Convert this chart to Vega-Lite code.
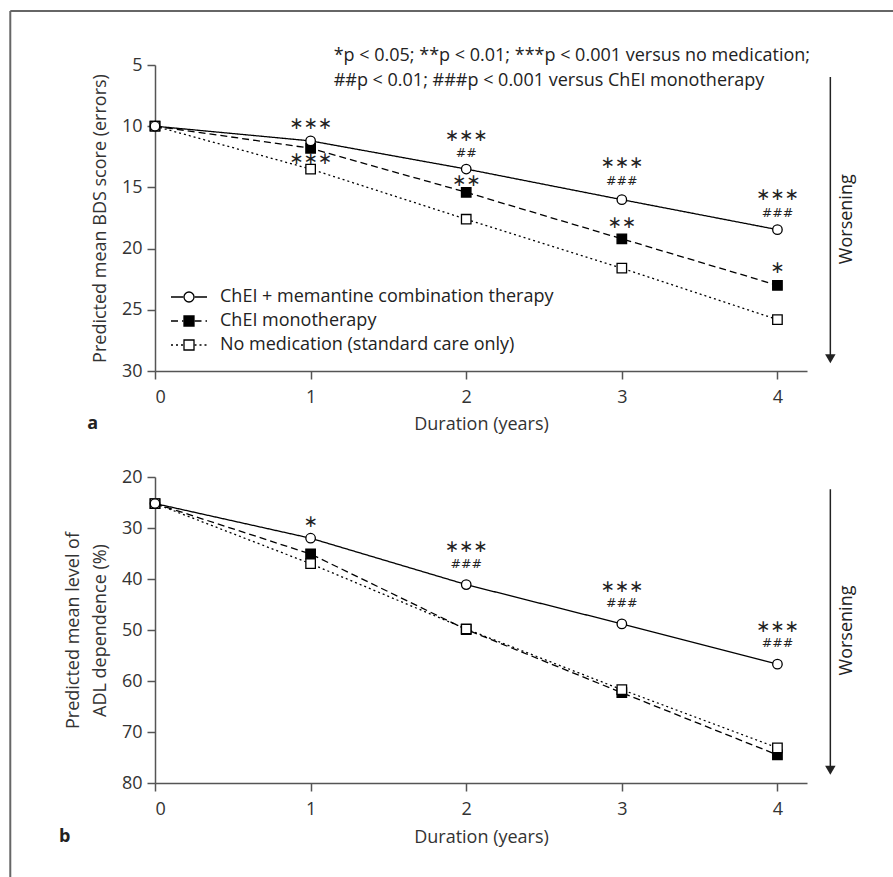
{
  "$schema": "https://vega.github.io/schema/vega-lite/v6.json",
  "background": "white",
  "padding": {"left": 9, "top": 9, "right": 0, "bottom": 0},
  "autosize": {"type": "pad"},
  "bounds": "flush",
  "spacing": 106,
  "config": {
    "font": "Open Sans",
    "view": {"stroke": null},
    "axis": {
      "grid": false,
      "domainColor": "#555",
      "domainWidth": 1.5,
      "tickColor": "#555",
      "tickWidth": 1.5,
      "tickSize": 8,
      "labelFontSize": 18,
      "labelColor": "#333",
      "titleFontSize": 18,
      "titleFontWeight": "normal",
      "titleColor": "#333",
      "labelFont": "Open Sans",
      "titleFont": "Open Sans"
    },
    "text": {"font": "Open Sans"}
  },
  "resolve": {
    "scale": {"x": "independent", "y": "independent", "strokeDash": "independent", "shape": "independent", "fill": "independent"},
    "legend": {"strokeDash": "independent", "shape": "independent", "fill": "independent"}
  },
  "datasets": {
    "bds": [
      {"series": "ChEI monotherapy", "year": 0, "value": 10},
      {"series": "ChEI monotherapy", "year": 1, "value": 11.8},
      {"series": "ChEI monotherapy", "year": 2, "value": 15.4},
      {"series": "ChEI monotherapy", "year": 3, "value": 19.2},
      {"series": "ChEI monotherapy", "year": 4, "value": 23.0},
      {"series": "No medication (standard care only)", "year": 0, "value": 10},
      {"series": "No medication (standard care only)", "year": 1, "value": 13.5},
      {"series": "No medication (standard care only)", "year": 2, "value": 17.6},
      {"series": "No medication (standard care only)", "year": 3, "value": 21.6},
      {"series": "No medication (standard care only)", "year": 4, "value": 25.8},
      {"series": "ChEI + memantine combination therapy", "year": 0, "value": 10},
      {"series": "ChEI + memantine combination therapy", "year": 1, "value": 11.2},
      {"series": "ChEI + memantine combination therapy", "year": 2, "value": 13.5},
      {"series": "ChEI + memantine combination therapy", "year": 3, "value": 16.0},
      {"series": "ChEI + memantine combination therapy", "year": 4, "value": 18.45}
    ],
    "adl": [
      {"series": "ChEI monotherapy", "year": 0, "value": 25.2},
      {"series": "ChEI monotherapy", "year": 1, "value": 35.1},
      {"series": "ChEI monotherapy", "year": 2, "value": 49.9},
      {"series": "ChEI monotherapy", "year": 3, "value": 62.3},
      {"series": "ChEI monotherapy", "year": 4, "value": 74.5},
      {"series": "No medication (standard care only)", "year": 0, "value": 25.2},
      {"series": "No medication (standard care only)", "year": 1, "value": 37.0},
      {"series": "No medication (standard care only)", "year": 2, "value": 49.8},
      {"series": "No medication (standard care only)", "year": 3, "value": 61.7},
      {"series": "No medication (standard care only)", "year": 4, "value": 73.1},
      {"series": "ChEI + memantine combination therapy", "year": 0, "value": 25.2},
      {"series": "ChEI + memantine combination therapy", "year": 1, "value": 32.0},
      {"series": "ChEI + memantine combination therapy", "year": 2, "value": 41.1},
      {"series": "ChEI + memantine combination therapy", "year": 3, "value": 48.8},
      {"series": "ChEI + memantine combination therapy", "year": 4, "value": 56.7}
    ],
    "sigA": [
      {"year": 1, "value": 9.85, "label": "∗∗∗", "kind": "star"},
      {"year": 1, "value": 12.7, "label": "∗∗∗", "kind": "star"},
      {"year": 2, "value": 10.8, "label": "∗∗∗", "kind": "star"},
      {"year": 2, "value": 12.16, "label": "##", "kind": "hash"},
      {"year": 2, "value": 14.5, "label": "∗∗", "kind": "star"},
      {"year": 3, "value": 13.03, "label": "∗∗∗", "kind": "star"},
      {"year": 3, "value": 14.48, "label": "###", "kind": "hash"},
      {"year": 3, "value": 17.9, "label": "∗∗", "kind": "star"},
      {"year": 4, "value": 15.65, "label": "∗∗∗", "kind": "star"},
      {"year": 4, "value": 17.07, "label": "###", "kind": "hash"},
      {"year": 4, "value": 21.56, "label": "∗", "kind": "star"}
    ],
    "sigB": [
      {"year": 1, "value": 28.9, "label": "∗", "kind": "star"},
      {"year": 2, "value": 33.7, "label": "∗∗∗", "kind": "star"},
      {"year": 2, "value": 37.0, "label": "###", "kind": "hash"},
      {"year": 3, "value": 41.5, "label": "∗∗∗", "kind": "star"},
      {"year": 3, "value": 44.8, "label": "###", "kind": "hash"},
      {"year": 4, "value": 49.35, "label": "∗∗∗", "kind": "star"},
      {"year": 4, "value": 52.6, "label": "###", "kind": "hash"}
    ]
  },
  "vconcat": [
    {
      "width": 652,
      "height": 306,
      "layer": [
        {
          "data": {"values": [{}]},
          "mark": {"type": "rule", "color": "#666", "strokeWidth": 2, "clip": false},
          "encoding": {
            "x": {"datum": -0.93, "type": "quantitative", "scale": {"domain": [0, 4.19], "nice": false, "zero": false}},
            "x2": {"datum": 4.9},
            "y": {"datum": 0.588, "type": "quantitative", "scale": {"domain": [5, 30], "reverse": true, "nice": false, "zero": false}}
          }
        },
        {
          "data": {"values": [{}]},
          "mark": {"type": "rule", "color": "#666", "strokeWidth": 2, "clip": false},
          "encoding": {
            "x": {"datum": -0.93, "type": "quantitative"},
            "y": {"datum": 0.588, "type": "quantitative"},
            "y2": {"datum": 76}
          }
        },
        {
          "data": {"name": "bds"},
          "mark": {"type": "line", "color": "black", "strokeWidth": 1.3},
          "encoding": {
            "x": {"field": "year", "type": "quantitative", "scale": {"domain": [0, 4.19], "nice": false, "zero": false},
                  "axis": {"values": [0, 1, 2, 3, 4], "format": "d", "title": "Duration (years)", "labelPadding": 9, "titlePadding": 9}},
            "y": {"field": "value", "type": "quantitative", "scale": {"domain": [5, 30], "reverse": true, "nice": false, "zero": false},
                  "axis": {"values": [5, 10, 15, 20, 25, 30], "title": "Predicted mean BDS score (errors)", "labelPadding": 5, "titlePadding": 12}},
            "strokeDash": {
              "field": "series", "type": "nominal",
              "scale": {"domain": ["ChEI + memantine combination therapy", "ChEI monotherapy", "No medication (standard care only)"],
                        "range": [[1, 0], [7, 4], [2, 3]]},
              "legend": {"orient": "none", "legendX": 25, "legendY": 223, "title": null,
                         "symbolType": "M-3.6,0L-1.1,0M1.1,0L3.6,0", "symbolSize": 100,
                         "symbolStrokeWidth": 1.3, "labelLimit": 0,
                         "labelFontSize": 18, "labelOffset": 22, "rowPadding": 6, "labelColor": "#222",
                         "encode": {"symbols": {"update": {"stroke": {"value": "black"}, "fill": {"value": "transparent"}, "strokeWidth": {"value": 1.3}}}}}
            }
          }
        },
        {
          "data": {"name": "bds"},
          "mark": {"type": "point", "filled": true, "stroke": "black", "strokeWidth": 1.3, "opacity": 1, "size": 90},
          "encoding": {
            "x": {"field": "year", "type": "quantitative"},
            "y": {"field": "value", "type": "quantitative"},
            "shape": {
              "field": "series", "type": "nominal",
              "scale": {"domain": ["No medication (standard care only)", "ChEI monotherapy", "ChEI + memantine combination therapy"],
                        "range": ["square", "square", "circle"]},
              "legend": {"orient": "none", "legendX": 25, "legendY": 223, "title": null, "symbolSize": 100,
                         "values": ["ChEI + memantine combination therapy", "ChEI monotherapy", "No medication (standard care only)"],
                         "symbolStrokeWidth": 1.3, "labelLimit": 0,
                         "labelFontSize": 18, "labelOffset": 22, "rowPadding": 6, "labelColor": "transparent",
                         "encode": {"symbols": {"update": {"stroke": {"value": "black"}, "strokeWidth": {"value": 1.3}, "opacity": {"value": 1}}}}}
            },
            "fill": {
              "field": "series", "type": "nominal",
              "scale": {"domain": ["No medication (standard care only)", "ChEI monotherapy", "ChEI + memantine combination therapy"],
                        "range": ["white", "black", "white"]},
              "legend": {"orient": "none", "legendX": 25, "legendY": 223, "title": null, "symbolSize": 100,
                         "values": ["ChEI + memantine combination therapy", "ChEI monotherapy", "No medication (standard care only)"],
                         "symbolStrokeWidth": 1.3, "labelLimit": 0,
                         "labelFontSize": 18, "labelOffset": 22, "rowPadding": 6, "labelColor": "transparent",
                         "encode": {"symbols": {"update": {"stroke": {"value": "black"}, "strokeWidth": {"value": 1.3}, "opacity": {"value": 1}}}}}
            }
          }
        },
        {
          "data": {"name": "sigA"},
          "transform": [{"filter": "datum.kind == 'star'"}],
          "mark": {"type": "text", "font": "DejaVu Sans", "fontSize": 17, "color": "#222", "align": "center", "baseline": "middle"},
          "encoding": {
            "x": {"field": "year", "type": "quantitative"},
            "y": {"field": "value", "type": "quantitative"},
            "text": {"field": "label"}
          }
        },
        {
          "data": {"name": "sigA"},
          "transform": [{"filter": "datum.kind == 'hash'"}],
          "mark": {"type": "text", "font": "DejaVu Sans", "fontSize": 12.5, "color": "#222", "align": "center", "baseline": "middle"},
          "encoding": {
            "x": {"field": "year", "type": "quantitative"},
            "y": {"field": "value", "type": "quantitative"},
            "text": {"field": "label"}
          }
        },
        {
          "data": {"values": [{}]},
          "mark": {"type": "text", "fontSize": 18, "color": "#222", "align": "left", "baseline": "middle", "clip": false,
                   "text": "*p < 0.05; **p < 0.01; ***p < 0.001 versus no medication;"},
          "encoding": {
            "x": {"datum": 1.148, "type": "quantitative"},
            "y": {"datum": 4.26, "type": "quantitative"}
          }
        },
        {
          "data": {"values": [{}]},
          "mark": {"type": "text", "fontSize": 18, "color": "#222", "align": "left", "baseline": "middle", "clip": false,
                   "text": "##p < 0.01; ###p < 0.001 versus ChEI monotherapy"},
          "encoding": {
            "x": {"datum": 1.148, "type": "quantitative"},
            "y": {"datum": 6.3, "type": "quantitative"}
          }
        },
        {
          "data": {"values": [{}]},
          "mark": {"type": "rule", "color": "#222", "strokeWidth": 1.5, "clip": false},
          "encoding": {
            "x": {"datum": 4.34, "type": "quantitative"},
            "y": {"datum": 5.98, "type": "quantitative"},
            "y2": {"datum": 29.0}
          }
        },
        {
          "data": {"values": [{}]},
          "mark": {"type": "point", "shape": "triangle-down", "filled": true, "color": "#222", "opacity": 1, "size": 110, "clip": false},
          "encoding": {
            "x": {"datum": 4.34, "type": "quantitative"},
            "y": {"datum": 29.0, "type": "quantitative"}
          }
        },
        {
          "data": {"values": [{}]},
          "mark": {"type": "text", "fontSize": 18, "color": "#222", "angle": 270, "align": "center", "baseline": "middle", "clip": false, "text": "Worsening"},
          "encoding": {
            "x": {"datum": 4.445, "type": "quantitative"},
            "y": {"datum": 17.6, "type": "quantitative"}
          }
        },
        {
          "data": {"values": [{}]},
          "mark": {"type": "text", "fontSize": 18, "fontWeight": "bold", "color": "#222", "align": "center", "baseline": "middle", "clip": false, "text": "a"},
          "encoding": {
            "x": {"datum": -0.40, "type": "quantitative"},
            "y": {"datum": 34.3, "type": "quantitative"}
          }
        }
      ]
    },
    {
      "width": 652,
      "height": 306,
      "layer": [
        {
          "data": {"name": "adl"},
          "mark": {"type": "line", "color": "black", "strokeWidth": 1.3},
          "encoding": {
            "x": {"field": "year", "type": "quantitative", "scale": {"domain": [0, 4.19], "nice": false, "zero": false},
                  "axis": {"values": [0, 1, 2, 3, 4], "format": "d", "title": "Duration (years)", "labelPadding": 9, "titlePadding": 10}},
            "y": {"field": "value", "type": "quantitative", "scale": {"domain": [20, 80], "reverse": true, "nice": false, "zero": false},
                  "axis": {"values": [20, 30, 40, 50, 60, 70, 80], "title": ["Predicted mean level of", "ADL dependence (%)"], "labelPadding": 5, "titlePadding": 12, "titleLineHeight": 27}},
            "strokeDash": {
              "field": "series", "type": "nominal",
              "scale": {"domain": ["ChEI + memantine combination therapy", "ChEI monotherapy", "No medication (standard care only)"],
                        "range": [[1, 0], [7, 4], [2, 3]]},
              "legend": null
            }
          }
        },
        {
          "data": {"name": "adl"},
          "mark": {"type": "point", "filled": true, "stroke": "black", "strokeWidth": 1.3, "opacity": 1, "size": 90},
          "encoding": {
            "x": {"field": "year", "type": "quantitative"},
            "y": {"field": "value", "type": "quantitative"},
            "shape": {
              "field": "series", "type": "nominal",
              "scale": {"domain": ["ChEI + memantine combination therapy", "ChEI monotherapy", "No medication (standard care only)"],
                        "range": ["circle", "square", "square"]},
              "legend": null
            },
            "fill": {
              "field": "series", "type": "nominal",
              "scale": {"domain": ["ChEI + memantine combination therapy", "ChEI monotherapy", "No medication (standard care only)"],
                        "range": ["white", "black", "white"]},
              "legend": null
            }
          }
        },
        {
          "data": {"name": "sigB"},
          "transform": [{"filter": "datum.kind == 'star'"}],
          "mark": {"type": "text", "font": "DejaVu Sans", "fontSize": 17, "color": "#222", "align": "center", "baseline": "middle"},
          "encoding": {
            "x": {"field": "year", "type": "quantitative"},
            "y": {"field": "value", "type": "quantitative"},
            "text": {"field": "label"}
          }
        },
        {
          "data": {"name": "sigB"},
          "transform": [{"filter": "datum.kind == 'hash'"}],
          "mark": {"type": "text", "font": "DejaVu Sans", "fontSize": 12.5, "color": "#222", "align": "center", "baseline": "middle"},
          "encoding": {
            "x": {"field": "year", "type": "quantitative"},
            "y": {"field": "value", "type": "quantitative"},
            "text": {"field": "label"}
          }
        },
        {
          "data": {"values": [{}]},
          "mark": {"type": "rule", "color": "#222", "strokeWidth": 1.5, "clip": false},
          "encoding": {
            "x": {"datum": 4.34, "type": "quantitative"},
            "y": {"datum": 22.4, "type": "quantitative"},
            "y2": {"datum": 77.5}
          }
        },
        {
          "data": {"values": [{}]},
          "mark": {"type": "point", "shape": "triangle-down", "filled": true, "color": "#222", "opacity": 1, "size": 110, "clip": false},
          "encoding": {
            "x": {"datum": 4.34, "type": "quantitative"},
            "y": {"datum": 77.5, "type": "quantitative"}
          }
        },
        {
          "data": {"values": [{}]},
          "mark": {"type": "text", "fontSize": 18, "color": "#222", "angle": 270, "align": "center", "baseline": "middle", "clip": false, "text": "Worsening"},
          "encoding": {
            "x": {"datum": 4.445, "type": "quantitative"},
            "y": {"datum": 50.1, "type": "quantitative"}
          }
        },
        {
          "data": {"values": [{}]},
          "mark": {"type": "text", "fontSize": 18, "fontWeight": "bold", "color": "#222", "align": "center", "baseline": "middle", "clip": false, "text": "b"},
          "encoding": {
            "x": {"datum": -0.58, "type": "quantitative"},
            "y": {"datum": 90.6, "type": "quantitative"}
          }
        }
      ]
    }
  ]
}
